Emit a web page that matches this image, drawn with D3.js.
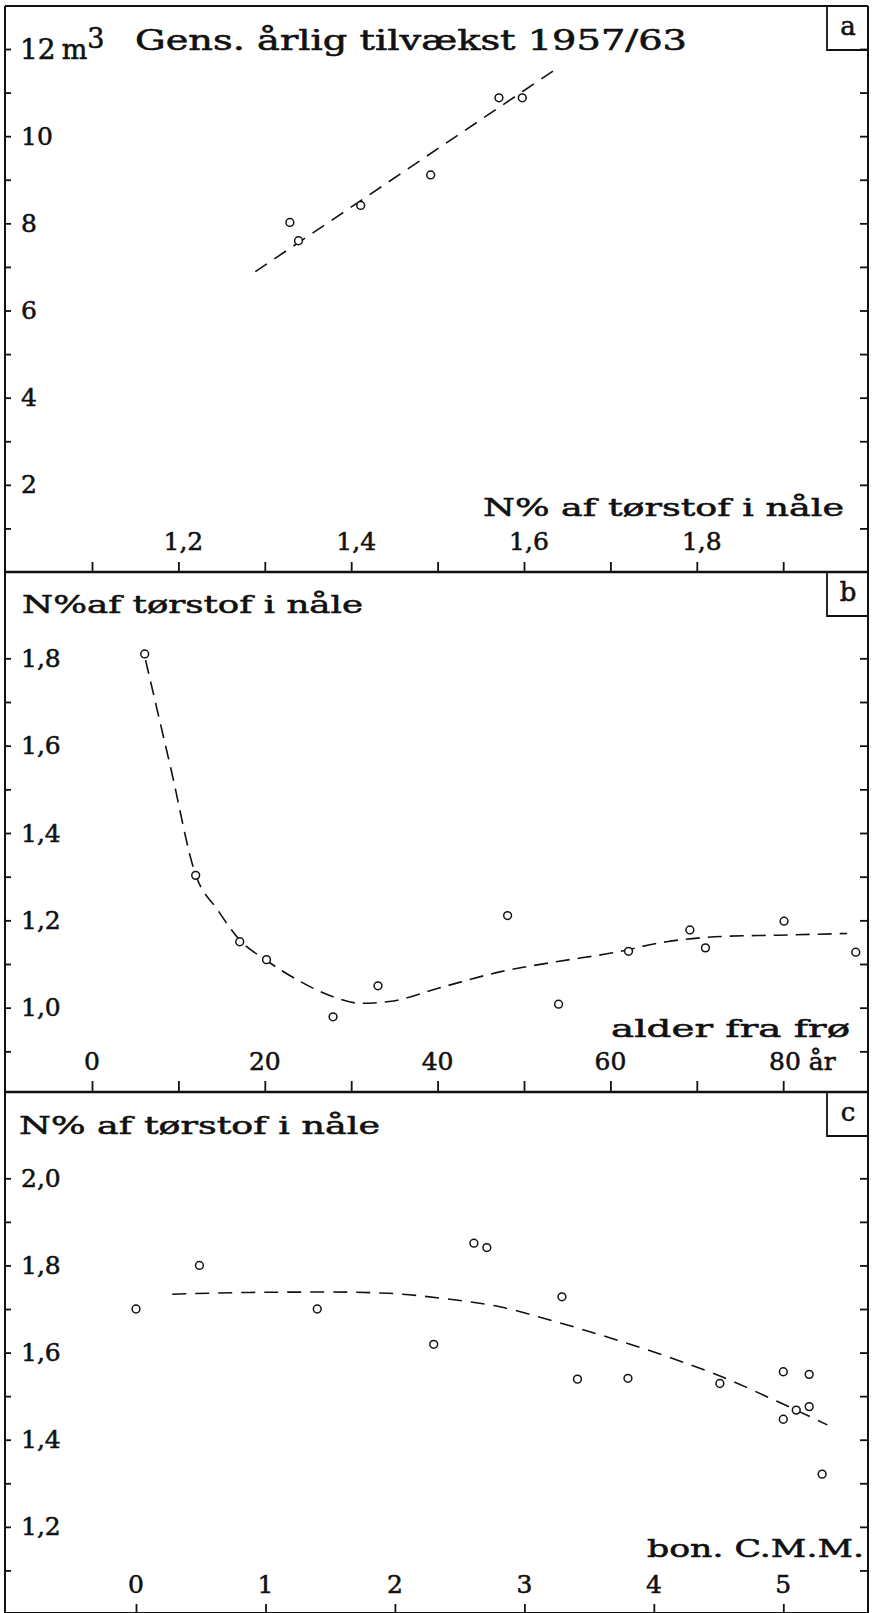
<!DOCTYPE html>
<html>
<head>
<meta charset="utf-8">
<script src="https://cdn.jsdelivr.net/npm/d3@7"></script>
<style>
  html, body { margin: 0; padding: 0; background: #fff; }
  svg { display: block; }
  text { font-family: "DejaVu Serif", "Liberation Serif", serif; fill: #111; stroke: #111; stroke-width: 0.55px; }
</style>
</head>
<body>
<svg id="chart" width="872" height="1613"></svg>
<script>
// ---------------- DATA ----------------
// Panel a: mean annual increment vs N% in needles
const aNpct   = [1.329, 1.339, 1.411, 1.492, 1.571, 1.598];
const aGrowth = [8.02, 7.60, 8.41, 9.11, 10.88, 10.88];
const aFitN   = [1.289, 1.637];
const aFitG   = [6.89, 11.54];
const aYTicks = [1,2,3,4,5,6,7,8,9,10,11,12];
const aYLabels = [2,4,6,8,10];
const aXTicks = [1.1,1.2,1.3,1.4,1.5,1.6,1.7,1.8,1.9];
const aXLabels = [1.2,1.4,1.6,1.8];

// Panel b: N% vs age from seed
const bAge = [6.1, 12.0, 17.1, 20.2, 27.9, 33.1, 48.1, 54.0, 62.1, 69.2, 71.0, 80.1, 88.4];
const bN   = [1.81, 1.303, 1.151, 1.110, 0.979, 1.050, 1.211, 1.008, 1.129, 1.178, 1.137, 1.198, 1.127];
const bCurveAge = [6.2, 9.1, 12.0, 14.5, 17.1, 20.2, 24.1, 27.9, 31.1, 34.4, 40.7, 47.2, 53.7, 60.1, 66.5, 72.9, 79.4, 87.4];
const bCurveN   = [1.796, 1.55, 1.304, 1.225, 1.155, 1.108, 1.060, 1.025, 1.010, 1.014, 1.048, 1.082, 1.105, 1.125, 1.151, 1.163, 1.166, 1.170];
const bYTicks = [0.9,1.0,1.1,1.2,1.3,1.4,1.5,1.6,1.7,1.8];
const bYLabels = [1.0,1.2,1.4,1.6,1.8];
const bXTicks = [0,10,20,30,40,50,60,70,80];
const bXLabels = [0,20,40,60];

// Panel c: N% vs site class (bon. C.M.M.)
const cBon = [0.00, 0.49, 1.40, 2.30, 2.61, 2.71, 3.29, 3.41, 3.80, 4.51, 5.00, 5.20, 5.00, 5.10, 5.20, 5.30];
const cN   = [1.700, 1.800, 1.700, 1.619, 1.851, 1.841, 1.728, 1.539, 1.541, 1.529, 1.556, 1.550, 1.447, 1.468, 1.476, 1.321];
const cCurveBon = [0.28, 0.88, 1.52, 1.95, 2.38, 2.81, 3.24, 3.67, 4.14, 4.53, 4.96, 5.34];
const cCurveN   = [1.734, 1.738, 1.739, 1.736, 1.724, 1.705, 1.671, 1.633, 1.587, 1.544, 1.487, 1.434];
const cYTicks = [1.1,1.2,1.3,1.4,1.5,1.6,1.7,1.8,1.9,2.0];
const cYLabels = [1.2,1.4,1.6,1.8,2.0];
const cXTicks = [0,1,2,3,4,5];

// ---------------- LAYOUT ----------------
const svg = d3.select("#chart");
const ink = "#111";
const L = 5, R = 868;
const topA = 6, sepAB = 572, sepBC = 1092, bottomC = 1613;

const dk = d3.formatLocale({decimal: ",", thousands: ".", grouping: [3], currency: ["", " kr"]});
const f1 = dk.format(".1f");

// scales
const xA = d3.scaleLinear().domain([1, 2]).range([5.6, 869.6]);
const yA = d3.scaleLinear().domain([0, 12]).range([572, 49]);
const xB = d3.scaleLinear().domain([-10, 90]).range([5.6, 869.6]);
const yB = d3.scaleLinear().domain([0.8, 2.0]).range([1095, 571]);
const xC = d3.scaleLinear().domain([0, 5]).range([136, 783.3]);
const yC = d3.scaleLinear().domain([1.0, 2.0]).range([1614, 1178.3]);

// frame lines
const frame = svg.append("g").attr("stroke", ink).attr("stroke-width", 2).attr("fill", "none");
frame.append("line").attr("x1", L).attr("x2", L).attr("y1", topA).attr("y2", 1613);
frame.append("line").attr("x1", R).attr("x2", R).attr("y1", topA).attr("y2", 1613);
frame.append("line").attr("x1", L).attr("x2", R).attr("y1", topA).attr("y2", topA);

function styleAxis(g) {
  g.select(".domain").remove();
  g.selectAll(".tick line").attr("stroke", ink).attr("stroke-width", 1.8);
  g.selectAll(".tick text").remove();
}

function yTickMarks(scale, ticks) {
  svg.append("g").attr("transform", `translate(${L},0)`)
    .call(d3.axisRight(scale).tickValues(ticks).tickSize(6).tickFormat(""))
    .call(styleAxis);
  svg.append("g").attr("transform", `translate(${R},0)`)
    .call(d3.axisLeft(scale).tickValues(ticks).tickSize(8).tickFormat(""))
    .call(styleAxis);
}

function xAxisAt(scale, ticks, y, size, w) {
  svg.append("g").attr("transform", `translate(0,${y})`)
    .call(d3.axisTop(scale).tickValues(ticks).tickSize(size).tickFormat(""))
    .call(g => {
      g.select(".domain").attr("stroke", ink).attr("stroke-width", w)
        .attr("d", `M${L},0H${R}`);
      g.selectAll(".tick line").attr("stroke", ink).attr("stroke-width", 1.8);
    });
}

function yLabels(scale, vals, fmt) {
  svg.append("g").selectAll("text").data(vals).join("text")
    .attr("x", 21).attr("y", d => scale(d)).attr("dy", "0.34em")
    .attr("font-size", 25).text(fmt);
}

function xLabels(scale, vals, fmt, y, dx) {
  svg.append("g").selectAll("text").data(vals).join("text")
    .attr("x", d => scale(d) + dx).attr("y", y)
    .attr("text-anchor", "middle").attr("font-size", 25).text(fmt);
}

function points(xs, ys, xv, yv) {
  svg.append("g").selectAll("circle").data(xv.map((v, i) => [v, yv[i]])).join("circle")
    .attr("cx", d => xs(d[0])).attr("cy", d => ys(d[1])).attr("r", 3.9)
    .attr("fill", "#fff").attr("stroke", ink).attr("stroke-width", 1.5);
}

function dashed(xs, ys, xv, yv, curve, dash) {
  const line = d3.line().x(d => xs(d[0])).y(d => ys(d[1])).curve(curve);
  svg.append("path").datum(xv.map((v, i) => [v, yv[i]]))
    .attr("d", line).attr("fill", "none").attr("stroke", ink)
    .attr("stroke-width", 1.6).attr("stroke-dasharray", dash);
}

function panelBox(top, letter) {
  const g = svg.append("g");
  g.append("path").attr("d", `M827,${top}V${top + 44}H${R}`)
    .attr("fill", "none").attr("stroke", ink).attr("stroke-width", 1.8);
  g.append("text").attr("x", 848).attr("y", top + 29).attr("text-anchor", "middle")
    .attr("font-size", 26).text(letter);
}

function fitText(x, y, w, size, str) {
  return svg.append("text").attr("x", x).attr("y", y).attr("font-size", size)
    .attr("textLength", w).attr("lengthAdjust", "spacingAndGlyphs").text(str);
}

// ---------------- PANEL A ----------------
yTickMarks(yA, aYTicks);
xAxisAt(xA, aXTicks, sepAB, 10, 2.6);
yLabels(yA, aYLabels, d => d);
xLabels(xA, aXLabels, f1, 550, 5);
// 12 m³ + title
const t12 = svg.append("text").attr("x", 20).attr("y", 59).attr("font-size", 28);
t12.append("tspan").text("12");
t12.append("tspan").attr("dx", 6).attr("font-size", 27).text("m");
t12.append("tspan").attr("dy", -11).attr("font-size", 27).text("3");
fitText(135, 50, 552, 27, "Gens. årlig tilvækst  1957/63");
fitText(483, 516, 361, 25, "N% af tørstof i nåle");
dashed(xA, yA, aFitN, aFitG, d3.curveLinear, "14,9");
points(xA, yA, aNpct, aGrowth);
panelBox(topA, "a");

// ---------------- PANEL B ----------------
yTickMarks(yB, bYTicks);
xAxisAt(xB, bXTicks, sepBC, 11, 2.6);
yLabels(yB, bYLabels, f1);
xLabels(xB, bXLabels, d => d, 1070, 0);
svg.append("text").attr("x", 769).attr("y", 1070).attr("font-size", 25).text("80 år");
fitText(22, 613, 341, 25, "N%af tørstof i nåle");
fitText(611, 1037, 239, 25, "alder fra frø");
dashed(xB, yB, bCurveAge, bCurveN, d3.curveMonotoneX, "14,8");
points(xB, yB, bAge, bN);
panelBox(sepAB, "b");

// ---------------- PANEL C ----------------
yTickMarks(yC, cYTicks);
xAxisAt(xC, cXTicks, bottomC, 9, 2);
yLabels(yC, cYLabels, f1);
xLabels(xC, cXTicks, d => d, 1593, 0);
fitText(19, 1134, 361, 25, "N% af tørstof i nåle");
fitText(647, 1557, 217, 25, "bon. C.M.M.");
dashed(xC, yC, cCurveBon, cCurveN, d3.curveMonotoneX, "14,9");
points(xC, yC, cBon, cN);
panelBox(sepBC, "c");
</script>
</body>
</html>
